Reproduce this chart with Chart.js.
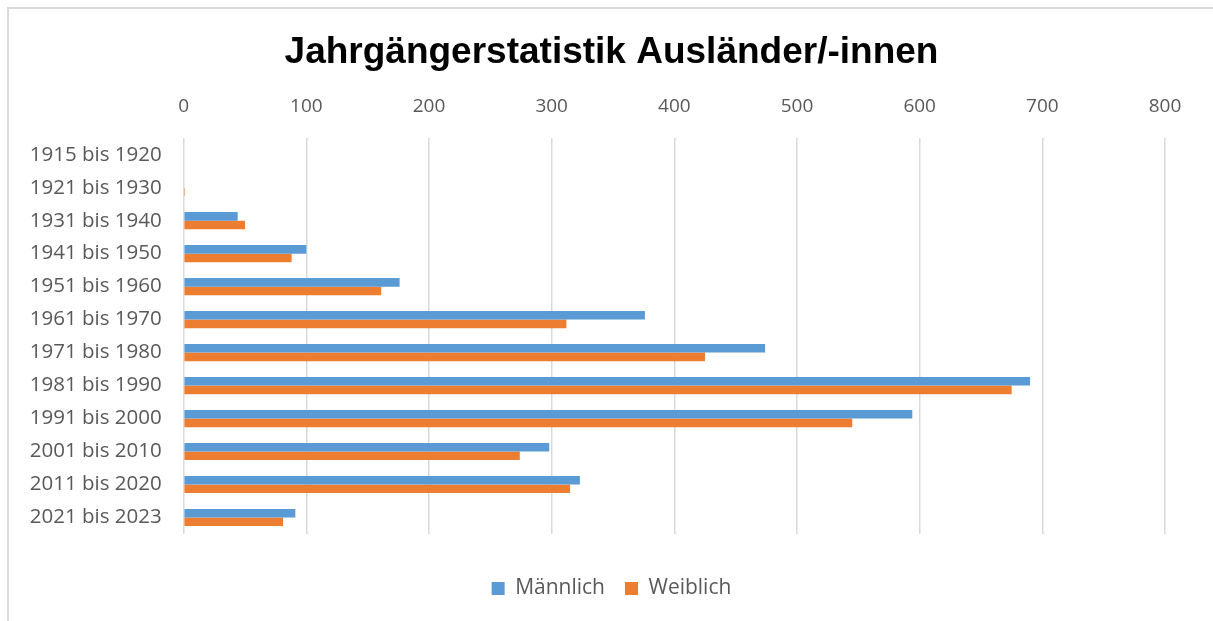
<!DOCTYPE html>
<html lang="de">
<head>
<meta charset="utf-8">
<title>Jahrgängerstatistik Ausländer/-innen</title>
<script src="https://cdn.jsdelivr.net/npm/chart.js@4.4.1/dist/chart.umd.min.js"></script>
<style>
  html, body { margin: 0; padding: 0; background: #ffffff; overflow: hidden; }
  #frame {
    position: absolute; left: 7px; top: 7px;
    width: 1210px; height: 620px;
    border-top: 2px solid #d9d9d9; border-left: 2px solid #d9d9d9;
    box-sizing: border-box;
  }
  #wrap { position: absolute; left: 9px; top: 9px; width: 1205px; height: 612px; }
</style>
</head>
<body>
<div id="frame"></div>
<div id="wrap"><canvas id="chart"></canvas></div>
<script>
// Jahrgänge (Geburtsjahrzehnte)
const categories = [
  '1915 bis 1920', '1921 bis 1930', '1931 bis 1940', '1941 bis 1950',
  '1951 bis 1960', '1961 bis 1970', '1971 bis 1980', '1981 bis 1990',
  '1991 bis 2000', '2001 bis 2010', '2011 bis 2020', '2021 bis 2023'
];
// Anzahl ausländischer Einwohner je Jahrgangsgruppe
const maennlich = [0, 0, 44, 100, 176, 376, 474, 690, 594, 298, 323, 91];
const weiblich  = [0, 1, 50, 88, 161, 312, 425, 675, 545, 274, 315, 81];
// Achsenbeschriftung oben
const xTicks = [0, 100, 200, 300, 400, 500, 600, 700, 800];

const textGrey = '#595959';
const gridGrey = '#d9d9d9';

new Chart(document.getElementById('chart'), {
  type: 'bar',
  data: {
    labels: categories,
    datasets: [
      { label: 'Männlich', data: maennlich, backgroundColor: '#5b9bd5', xAxisID: 'x', yAxisID: 'y' },
      { label: 'Weiblich', data: weiblich, backgroundColor: '#ed7d31', xAxisID: 'x', yAxisID: 'y' }
    ]
  },
  options: {
    indexAxis: 'y',
    responsive: true,
    maintainAspectRatio: false,
    animation: false,
    layout: { padding: { left: 0, right: 0, top: 0, bottom: 12 } },
    datasets: { bar: { categoryPercentage: 0.52, barPercentage: 1.0, borderWidth: 0 } },
    plugins: {
      title: {
        display: true,
        text: 'Jahrgängerstatistik Ausländer/-innen',
        color: '#000000',
        font: { family: "'Liberation Sans', Arial, sans-serif", size: 37, weight: 'bold', lineHeight: 1.2 },
        padding: { top: 22, bottom: 0 }
      },
      legend: {
        position: 'bottom',
        labels: {
          color: textGrey,
          font: { family: "'Open Sans', sans-serif", size: 21 },
          boxWidth: 13,
          boxHeight: 13,
          padding: 20
        }
      },
      tooltip: { enabled: false }
    },
    scales: {
      x: {
        position: 'top',
        min: xTicks[0],
        max: xTicks[xTicks.length - 1],
        afterBuildTicks: (scale) => { scale.ticks = xTicks.map(v => ({ value: v })); },
        grid: { color: gridGrey, lineWidth: 1.5, drawTicks: false },
        border: { display: false },
        ticks: { color: textGrey, font: { family: "'Open Sans', sans-serif", size: 19 }, padding: 20 }
      },
      // leerer Abstand zwischen Zeichenfläche und Legende
      xBottom: {
        position: 'bottom',
        display: true,
        min: 0, max: 800,
        grid: { display: false, drawTicks: false },
        border: { display: false },
        ticks: { display: false },
        afterFit: (scale) => { scale.height = 24; }
      },
      y: {
        position: 'left',
        grid: { display: false, drawTicks: false },
        border: { display: false },
        ticks: { color: textGrey, font: { family: "'Open Sans', sans-serif", size: 20.5 }, padding: 22 },
        afterFit: (scale) => { scale.width = 174.7; }
      },
      // leerer Rand rechts
      yRight: {
        type: 'category',
        labels: categories,
        position: 'right',
        display: true,
        grid: { display: false, drawTicks: false },
        border: { display: false },
        ticks: { display: false },
        afterFit: (scale) => { scale.width = 49; }
      }
    }
  }
});
</script>
</body>
</html>
